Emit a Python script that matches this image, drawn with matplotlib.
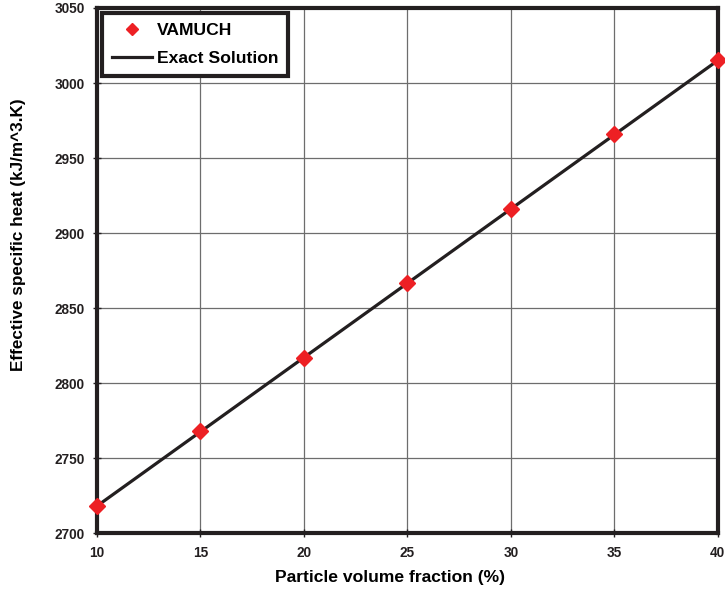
import matplotlib
matplotlib.use("Agg")
import matplotlib.pyplot as plt

plt.rcParams['font.family'] = ['Liberation Sans', 'DejaVu Sans']
plt.rcParams['font.weight'] = 'bold'

# Particle volume fraction (%) and effective specific heat (kJ/m^3.K)
fraction = [10, 15, 20, 25, 30, 35, 40]
vamuch = [2718, 2768, 2817, 2867, 2916, 2966, 3015]
exact = [2718, 2767.5, 2817, 2866.5, 2916, 2965.5, 3015]

x_ticks = [10, 15, 20, 25, 30, 35, 40]
y_ticks = [2700, 2750, 2800, 2850, 2900, 2950, 3000, 3050]

fig = plt.figure(figsize=(7.25, 5.97), dpi=100)
ax = fig.add_axes([0.1338, 0.1072, 0.8562, 0.8794])

ax.plot(fraction, exact, color='#231f20', linewidth=2.3, label='Exact Solution', zorder=3)
ax.plot(fraction, vamuch, linestyle='none', marker='D', markersize=8,
        color='#ed2024', markeredgecolor='#ed2024', label='VAMUCH', zorder=4, clip_on=False)

ax.set_xlim(10, 40)
ax.set_ylim(2700, 3050)
ax.set_xticks(x_ticks)
ax.set_yticks(y_ticks)
ax.grid(True, color='#6d6d6d', linewidth=0.9)
ax.set_axisbelow(True)

for s in ax.spines.values():
    s.set_linewidth(3.0)
    s.set_color('#231f20')

ax.tick_params(direction='inout', length=6, width=1, labelsize=9.8, pad=6, colors='#231f20')
for lbl in ax.get_xticklabels() + ax.get_yticklabels():
    lbl.set_fontweight('bold')

ax.set_xlabel('Particle volume fraction (%)', fontsize=12.6, fontweight='bold')
ax.set_ylabel('Effective specific heat (kJ/m^3.K)', fontsize=12.3, fontweight='bold')
ax.xaxis.set_label_coords(0.472, -0.0857)
ax.yaxis.set_label_coords(-0.127, 0.568)
ax.xaxis.label.set_verticalalignment('center')
ax.yaxis.label.set_verticalalignment('center')

handles, labels = ax.get_legend_handles_labels()
leg = ax.legend(handles[::-1], labels[::-1], loc='upper left', bbox_to_anchor=(0.0, 1.0),
                frameon=True, fancybox=False, borderaxespad=0.3, handlelength=2.3,
                handletextpad=0.25, markerscale=0.8,
                prop={'weight': 'bold', 'size': 12.6}, labelspacing=0.75,
                borderpad=0.55)
leg.get_frame().set_edgecolor('#231f20')
leg.get_frame().set_linewidth(3.0)
leg.get_frame().set_alpha(1)

fig.savefig('out.png', dpi=100)
